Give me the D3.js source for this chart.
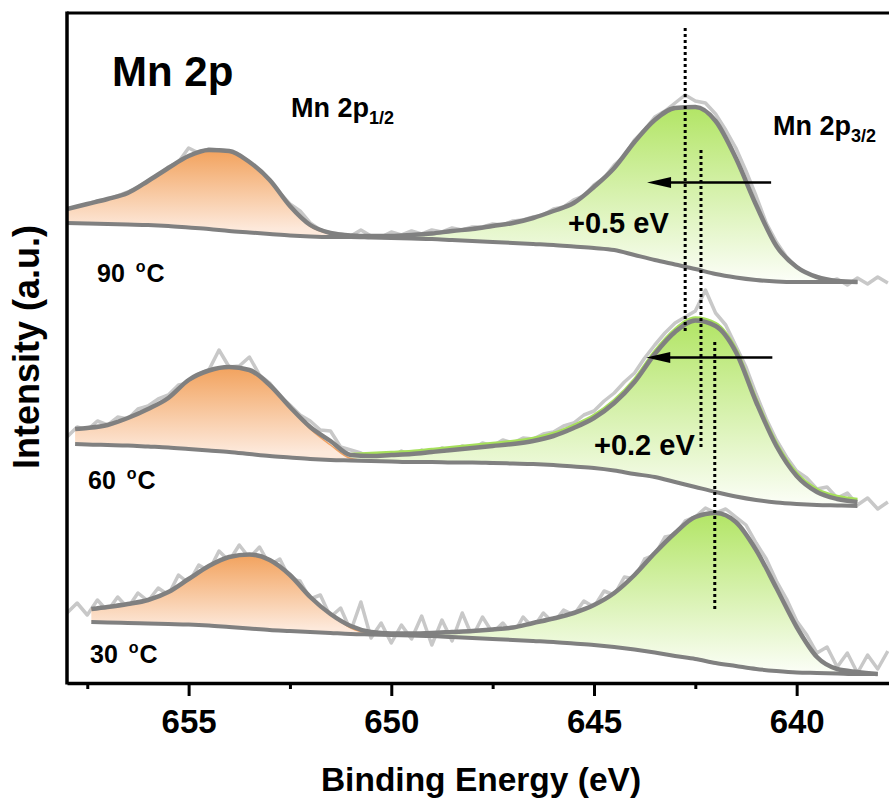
<!DOCTYPE html>
<html><head><meta charset="utf-8">
<script src="https://cdn.jsdelivr.net/npm/d3@7"></script>
<style>
body{margin:0;background:#fff;}
svg text{font-family:"Liberation Sans",Arial,Helvetica,sans-serif;font-weight:bold;fill:#000;}
</style></head><body>
<svg id="c" width="889" height="800"></svg>
<script>
// ---------------- data ----------------
const xMajorTicks = [655, 650, 645, 640];
const xMinorTicks = [657.5, 652.5, 647.5, 642.5];
const temperatureLabels = ["90", "60", "30"];

const energy90 = [658,657.5,657,656.5,656,655.5,655,654.5,654,653.5,653,652.5,652,651.5,651,650.5,650,649.5,649,648.5,648,647.5,647,646.5,646,645.5,645,644.5,644,643.5,643,642.5,642,641.5,641,640.5,640,639.5,639,638.5];
const background90 = [460,459.5,459,458.5,458,457,455.5,454,452,450.5,449,447.5,446.5,446,446,445.5,445,444.5,444,443,442,441,440,439,438,436.5,435,433,428,423,418.5,414,409,405.5,403,401.5,401,401,401,401];
const orange90 = [14,19.5,25,31.5,44,58,71.5,79,80,70.5,54,29.5,10,3,0.5,0,0,0,0,0,0,0,0,0,0,0,0,0,0,0,0,0,0,0,0,0,0,0,0,0];
const green90 = [0,0,0,0,0,0,0,0,0,0,0,0,1.5,1,1,1.5,2,3.5,5.5,9,12,16,20,26,34,43.5,61,82,113,140,156.5,162,153,119.5,75,35.5,15,5,1,0];

const energy60 = [657.8,657.5,657,656.5,656,655.5,655,654.5,654,653.5,653,652.5,652,651.5,651,650.5,650,649.5,649,648.5,648,647.5,647,646.5,646,645.5,645,644.5,644,643.5,643,642.5,642,641.5,641,640.5,640,639.5,639,638.5];
const background60 = [239,238.5,238,237.5,236.5,235.5,234,232.5,231,229,227,225.5,224,223,222.5,222,221.5,221,221,220.5,220.5,220,219.5,219,218,216.5,215,212.5,209,206,201,196,191,186.5,183,180.5,179,178,177.5,177];
const orange60 = [15,16.5,20,27.5,37.5,49.5,69,80,85,84,71,50.5,30,15,2,0,0,0,0,0,0,0,0,0,0,0,0,0,0,0,0,0,0,0,0,0,0,0,0,0];
const green60 = [0,0,0,0,0,0,0,0,0,0,0,0,2,4,3.5,5,6.5,8,10,12.5,14.5,17,19.5,23,29,38.5,50,67.5,92,123,150,166.5,166,144.5,98,56.5,28,13,6.5,4];

const energy30 = [657.4,657,656.5,656,655.5,655,654.5,654,653.5,653,652.5,652,651.5,651,650.5,650,649.5,649,648.5,648,647.5,647,646.5,646,645.5,645,644.5,644,643.5,643,642.5,642,641.5,641,640.5,640,639.5,639,638.5,638];
const background30 = [61,60.5,60,59.5,59,58.5,57.5,56,54.5,53,52,51,50,49,48.5,48,47.5,47,46,45,44,43,42,41,39.5,38,36,33.5,30.5,27,24,20,17,14,12,10.5,10,9.5,9,9];
const orange30 = [13,15.5,19,23.5,32,45.5,59.5,70,74,70,56,35,19,6,1,0,0,0,0,0,0,0,0,0,0,0,0,0,0,0,0,0,0,0,0,0,0,0,0,0];
const green30 = [0,0,0,0,0,0,0,0,0,0,0,0,0,2,1.5,1.5,2,3,5,7,9.5,12.5,18,23.5,30.5,40,54,74.5,99.5,123,142,150,144,119,83,45.5,16,4.5,2,0];

const rawEnergy = [658,657.75,657.5,657.25,657,656.75,656.5,656.25,656,655.75,655.5,655.25,655,654.75,654.5,654.25,654,653.75,653.5,653.25,653,652.75,652.5,652.25,652,651.75,651.5,651.25,651,650.75,650.5,650.25,650,649.75,649.5,649.25,649,648.75,648.5,648.25,648,647.75,647.5,647.25,647,646.75,646.5,646.25,646,645.75,645.5,645.25,645,644.75,644.5,644.25,644,643.75,643.5,643.25,643,642.75,642.5,642.25,642,641.75,641.5,641.25,641,640.75,640.5,640.25,640,639.75,639.5,639.25,639,638.75,638.5,638.25,638,637.75];
const raw90 = [474,476,479,482,484,487,491,496,502,508,516,521,535,530,534,533,532,528,521,512,503,490,479,472,460,453,450,449,447,453,447,446,451,448,452,449,453,451,455,453,456,456,459,458,462,463,466,468,474,476,483,487,498,505,518,527,543,553,566,572,580,588,582,580,569,553,535,512,487,460,441,426,416,409,405,401,404,398,405,399,406,400];
const raw60 = [246,256,253,262,258,266,264,274,277,284,288,298,300,309,313,333,316,317,326,308,300,287,278,268,262,253,252,236,233,230,224,228,225,232,227,233,228,235,231,237,234,240,237,243,240,245,244,249,251,257,260,268,272,282,290,301,310,325,338,350,360,366,372,393,370,358,337,316,289,264,243,226,212,205,194,196,185,190,178,185,174,181];
const raw30 = [70,80,68,83,72,86,75,90,82,95,88,108,100,118,112,132,122,138,125,136,118,124,104,102,84,88,66,75,52,81,45,60,40,58,44,67,38,63,42,70,46,66,50,60,48,66,55,70,60,73,68,82,76,92,88,106,104,124,128,146,148,162,166,175,170,174,166,158,140,124,102,84,62,48,30,36,16,30,10,28,14,32];

// annotations (data coordinates)
const dottedEnergy = [642.75, 642.36, 642.02];
const dottedTop = [655, 533, 341];
const dottedBottom = [350, 235, 71];
const arrowFrom = [640.63, 640.6];
const arrowTo = [643.69, 643.71];
const arrowLevel = [500.5, 325.5];
const shiftLabels = ["+0.5 eV", "+0.2 eV"];

// ---------------- drawing ----------------
const L = 67, R = 898, T = 13, B = 683;
const x = d3.scaleLinear().domain([658, 637.5]).range([L, R]);
const y = d3.scaleLinear().domain([0, 670]).range([B, T]);

const svg = d3.select("#c");
const defs = svg.append("defs");
defs.append("clipPath").attr("id", "plotclip")
  .append("rect").attr("x", L).attr("y", T).attr("width", R - L).attr("height", B - T);
const plot = svg.append("g").attr("clip-path", "url(#plotclip)");

const spectra = [
  {key: "90", energy: energy90, bg: background90, orange: orange90, green: green90, raw: raw90, greenShift: 0, showGreenLine: false},
  {key: "60", energy: energy60, bg: background60, orange: orange60, green: green60, raw: raw60, greenShift: -2.5, showGreenLine: true},
  {key: "30", energy: energy30, bg: background30, orange: orange30, green: green30, raw: raw30, greenShift: 0, showGreenLine: false}
];

const smooth = d3.curveMonotoneX;

spectra.forEach(s => {
  const pts = s.energy.map((e, j) => ({
    e, bg: s.bg[j], o: s.bg[j] + s.orange[j], g: s.bg[j] + s.green[j],
    env: s.bg[j] + s.orange[j] + s.green[j], gv: s.green[j]
  }));
  const g = plot.append("g");

  const oMax = d3.max(pts, d => d.o);
  const oIdx = pts.findIndex(d => d.o === oMax);
  const og = defs.append("linearGradient").attr("id", "og" + s.key)
    .attr("gradientUnits", "userSpaceOnUse").attr("x1", 0).attr("x2", 0)
    .attr("y1", y(oMax)).attr("y2", y(pts[oIdx].bg));
  og.append("stop").attr("offset", 0).attr("stop-color", "#f2a25d");
  og.append("stop").attr("offset", 1).attr("stop-color", "#fde9db");

  const gMax = d3.max(pts, d => d.g);
  const gMinBg = d3.min(pts, d => d.bg);
  const gg = defs.append("linearGradient").attr("id", "gg" + s.key)
    .attr("gradientUnits", "userSpaceOnUse").attr("x1", 0).attr("x2", 0)
    .attr("y1", y(gMax)).attr("y2", y(gMinBg));
  gg.append("stop").attr("offset", 0).attr("stop-color", "#b2e565");
  gg.append("stop").attr("offset", 1).attr("stop-color", "#fcfef8");

  // raw data
  const rawLine = d3.line().x((d, j) => x(rawEnergy[j])).y(d => y(d));
  g.append("path").attr("d", rawLine(s.raw))
    .attr("fill", "none").attr("stroke", "#c8c8c8").attr("stroke-width", 3.5)
    .attr("stroke-linejoin", "round");

  // fills
  const orangePts = pts.filter((d, j) => s.orange[j] > 0 || (j > 0 && s.orange[j - 1] > 0));
  const greenPts = pts.filter((d, j) => s.green[j] > 0 || (j > 0 && s.green[j - 1] > 0) || (j < pts.length - 1 && s.green[j + 1] > 0));
  const oArea = d3.area().curve(smooth).x(d => x(d.e)).y0(d => y(d.bg)).y1(d => y(d.o));
  const gArea = d3.area().curve(smooth).x(d => x(d.e)).y0(d => y(d.bg)).y1(d => y(d.g));
  g.append("path").attr("d", gArea(greenPts)).attr("fill", `url(#gg${s.key})`);
  g.append("path").attr("d", oArea(orangePts)).attr("fill", `url(#og${s.key})`);

  // component outlines
  const oLine = d3.line().curve(smooth).x(d => x(d.e)).y(d => y(d.o));
  g.append("path").attr("d", oLine(orangePts)).attr("fill", "none")
    .attr("stroke", "#f0a060").attr("stroke-width", 1.5);
  if (s.showGreenLine) {
    const gLinePts = greenPts.filter(d => d.e <= 651);
    const gLine = d3.line().curve(smooth).x(d => x(d.e)).y(d => y(d.g) + s.greenShift);
    g.append("path").attr("d", gLine(gLinePts)).attr("fill", "none")
      .attr("stroke", "#a6e05a").attr("stroke-width", 3.5);
  }

  // background
  const bgLine = d3.line().curve(smooth).x(d => x(d.e)).y(d => y(d.bg));
  g.append("path").attr("d", bgLine(pts)).attr("fill", "none")
    .attr("stroke", "#808080").attr("stroke-width", 4);

  // envelope
  const envLine = d3.line().curve(smooth).x(d => x(d.e)).y(d => y(d.env));
  g.append("path").attr("d", envLine(pts)).attr("fill", "none")
    .attr("stroke", "#808080").attr("stroke-width", 4.5).attr("stroke-linejoin", "round");
});

// dotted reference lines
dottedEnergy.forEach((e, i) => {
  svg.append("line")
    .attr("x1", x(e)).attr("x2", x(e))
    .attr("y1", y(dottedTop[i])).attr("y2", y(dottedBottom[i]))
    .attr("stroke", "#000").attr("stroke-width", 3).attr("stroke-dasharray", "3,3");
});

// arrows
arrowFrom.forEach((e, i) => {
  const yy = y(arrowLevel[i]);
  const tip = x(arrowTo[i]);
  svg.append("line").attr("x1", x(e)).attr("x2", tip + 18).attr("y1", yy).attr("y2", yy)
    .attr("stroke", "#000").attr("stroke-width", 2.6);
  svg.append("path")
    .attr("d", `M${tip},${yy} L${tip + 24},${yy - 5.5} L${tip + 24},${yy + 5.5} Z`)
    .attr("fill", "#000");
});

// frame
svg.append("line").attr("x1", L).attr("x2", R).attr("y1", T).attr("y2", T)
  .attr("stroke", "#000").attr("stroke-width", 3);
svg.append("line").attr("x1", L).attr("x2", L).attr("y1", T - 1.5).attr("y2", B + 1.5)
  .attr("stroke", "#000").attr("stroke-width", 3.5);

// x axis
const axisMajor = d3.axisBottom(x).tickValues(xMajorTicks).tickSize(13).tickSizeOuter(0)
  .tickFormat(d3.format("d"));
const gx = svg.append("g").attr("transform", `translate(0,${B})`).call(axisMajor);
gx.select(".domain").attr("stroke", "#000").attr("stroke-width", 3.5);
gx.selectAll(".tick line").attr("stroke", "#000").attr("stroke-width", 3);
gx.selectAll(".tick text")
  .attr("y", 50).attr("dy", null)
  .attr("font-size", 33).attr("font-family", null)
  .style("font-family", '"Liberation Sans",Arial,sans-serif').style("font-weight", "bold").attr("fill", "#000");

const axisMinor = d3.axisBottom(x).tickValues(xMinorTicks).tickSize(6).tickSizeOuter(0).tickFormat("");
const gxm = svg.append("g").attr("transform", `translate(0,${B})`).call(axisMinor);
gxm.select(".domain").remove();
gxm.selectAll(".tick line").attr("stroke", "#000").attr("stroke-width", 3);

// axis titles
svg.append("text").attr("x", 481).attr("y", 791).attr("text-anchor", "middle")
  .attr("font-size", 33.5).text("Binding Energy (eV)");
svg.append("text").attr("transform", "translate(39,347) rotate(-90)")
  .attr("text-anchor", "middle").attr("font-size", 36).text("Intensity (a.u.)");

// titles and labels
svg.append("text").attr("x", 112).attr("y", 86).attr("font-size", 42).text("Mn 2p");

const lab12 = svg.append("text").attr("x", 291).attr("y", 117).attr("font-size", 27);
lab12.append("tspan").text("Mn 2p");
lab12.append("tspan").attr("font-size", 18).attr("dy", 7).text("1/2");

const lab32 = svg.append("text").attr("x", 773).attr("y", 135).attr("font-size", 27);
lab32.append("tspan").text("Mn 2p");
lab32.append("tspan").attr("font-size", 18).attr("dy", 7).text("3/2");

const tempPos = [[97, 282], [88, 489], [90, 663]];
temperatureLabels.forEach((t, i) => {
  const tx = svg.append("text").attr("x", tempPos[i][0]).attr("y", tempPos[i][1]).attr("font-size", 25);
  tx.append("tspan").text(t + " ");
  tx.append("tspan").attr("font-size", 16).attr("dy", -10).attr("dx", 4).text("o");
  tx.append("tspan").attr("dy", 10).attr("dx", 1).text("C");
});

const shiftPos = [[568, 233], [594, 455]];
shiftLabels.forEach((t, i) => {
  svg.append("text").attr("x", shiftPos[i][0]).attr("y", shiftPos[i][1]).attr("font-size", 29).text(t);
});
</script>
</body></html>
